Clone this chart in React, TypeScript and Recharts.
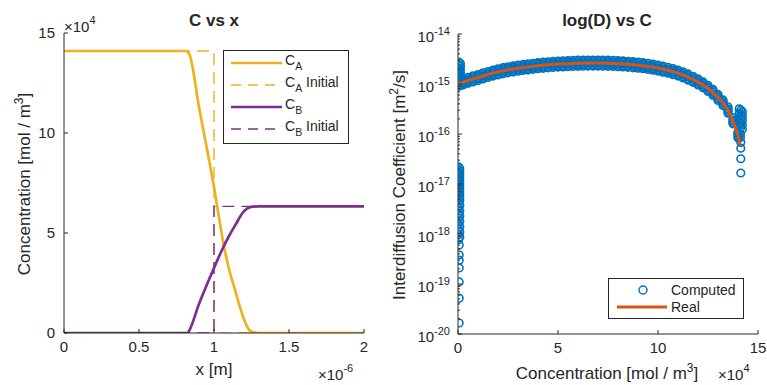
import React from "react";
import { ComposedChart, LineChart, Line, Scatter, XAxis, YAxis, Legend } from "recharts";

// ---------- left panel: C vs x  (x in 1e-6 m, C in 1e4 mol/m^3) ----------
const caX = [0, 0.81, 0.835, 0.9, 1.0, 1.07, 1.107, 1.14, 1.173, 1.207, 1.23, 1.26, 1.3, 2.0];
const caC = [14.1, 14.1, 13.95, 11.3, 7.3, 4.2, 3.0, 2.16, 1.3, 0.55, 0.2, 0.04, 0, 0];
const cbX = [0, 0.825, 0.835, 0.9, 1.0, 1.05, 1.1, 1.15, 1.19, 1.22, 1.25, 1.3, 2.0];
const cbC = [0, 0, 0.12, 1.45, 3.25, 4.1, 4.85, 5.5, 6.0, 6.22, 6.31, 6.33, 6.33];
const caInitX = [0, 1, 1, 2];
const caInitC = [14.1, 14.1, 0, 0];
const cbInitX = [0, 1, 1, 2];
const cbInitC = [0, 0, 6.33, 6.33];
const leftXTicks = [0, 0.5, 1, 1.5, 2];
const leftYTicks = [0, 5, 10, 15];

// ---------- right panel: log(D) vs C  (C in 1e4 mol/m^3, D in 1e-15 m^2/s) ----------
const D_UNIT = 1e-15;
const realConc = [0, 0.5, 1, 1.5, 2, 2.5, 3, 3.5, 4, 4.5, 5, 5.5, 6, 6.5, 7, 7.5, 8, 8.5, 9, 9.5, 10, 10.5, 11, 11.5, 12, 12.5, 13, 13.25, 13.5, 13.75, 14, 14.1];
const realD = [1.0, 1.18, 1.35, 1.55, 1.75, 1.92, 2.07, 2.2, 2.32, 2.42, 2.5, 2.55, 2.6, 2.62, 2.62, 2.6, 2.55, 2.48, 2.38, 2.25, 2.08, 1.88, 1.65, 1.38, 1.1, 0.82, 0.54, 0.42, 0.3, 0.18, 0.095, 0.06];

// computed points along the curve (five rows from above to below the curve)
const bandConc = [0.25, 0.5, 0.75, 1, 1.25, 1.5, 1.75, 2, 2.25, 2.5, 2.75, 3, 3.25, 3.5, 3.75, 4, 4.25, 4.5, 4.75, 5, 5.25, 5.5, 5.75, 6, 6.25, 6.5, 6.75, 7, 7.25, 7.5, 7.75, 8, 8.25, 8.5, 8.75, 9, 9.25, 9.5, 9.75, 10, 10.25, 10.5, 10.75, 11, 11.25, 11.5, 11.75, 12, 12.25, 12.5, 12.75, 13, 13.25, 13.5, 13.75, 14];
const bandHigh = [1.25, 1.36, 1.46, 1.55, 1.67, 1.78, 1.9, 2.01, 2.12, 2.21, 2.3, 2.38, 2.46, 2.53, 2.6, 2.67, 2.73, 2.78, 2.83, 2.88, 2.91, 2.93, 2.97, 2.99, 3.0, 3.01, 3.01, 3.01, 3.0, 2.99, 2.97, 2.93, 2.9, 2.85, 2.79, 2.74, 2.67, 2.59, 2.5, 2.39, 2.28, 2.16, 2.04, 1.9, 1.75, 1.59, 1.43, 1.27, 1.1, 0.94, 0.78, 0.62, 0.48, 0.35, 0.21, 0.11];
const bandUpper = [1.17, 1.27, 1.37, 1.45, 1.56, 1.67, 1.77, 1.88, 1.98, 2.06, 2.15, 2.23, 2.3, 2.37, 2.43, 2.49, 2.55, 2.6, 2.64, 2.69, 2.72, 2.74, 2.77, 2.8, 2.81, 2.82, 2.82, 2.82, 2.81, 2.8, 2.77, 2.74, 2.71, 2.67, 2.61, 2.56, 2.49, 2.42, 2.33, 2.24, 2.13, 2.02, 1.9, 1.77, 1.63, 1.48, 1.33, 1.18, 1.03, 0.88, 0.73, 0.58, 0.45, 0.32, 0.19, 0.102];
const bandMid = [1.09, 1.18, 1.27, 1.35, 1.45, 1.55, 1.65, 1.75, 1.84, 1.92, 2.0, 2.07, 2.14, 2.2, 2.26, 2.32, 2.37, 2.42, 2.46, 2.5, 2.53, 2.55, 2.58, 2.6, 2.61, 2.62, 2.62, 2.62, 2.61, 2.6, 2.58, 2.55, 2.52, 2.48, 2.43, 2.38, 2.32, 2.25, 2.17, 2.08, 1.98, 1.88, 1.77, 1.65, 1.52, 1.38, 1.24, 1.1, 0.96, 0.82, 0.68, 0.54, 0.42, 0.3, 0.18, 0.095];
const bandUnder = [1.01, 1.1, 1.18, 1.26, 1.35, 1.44, 1.53, 1.63, 1.71, 1.79, 1.86, 1.93, 1.99, 2.05, 2.1, 2.16, 2.2, 2.25, 2.29, 2.33, 2.35, 2.37, 2.4, 2.42, 2.43, 2.44, 2.44, 2.44, 2.43, 2.42, 2.4, 2.37, 2.34, 2.31, 2.26, 2.21, 2.16, 2.09, 2.02, 1.93, 1.84, 1.75, 1.65, 1.53, 1.41, 1.28, 1.15, 1.02, 0.89, 0.76, 0.63, 0.5, 0.39, 0.28, 0.167, 0.088];
const bandLow = [0.95, 1.03, 1.1, 1.17, 1.26, 1.35, 1.44, 1.52, 1.6, 1.67, 1.74, 1.8, 1.86, 1.91, 1.97, 2.02, 2.06, 2.11, 2.14, 2.18, 2.2, 2.22, 2.24, 2.26, 2.27, 2.28, 2.28, 2.28, 2.27, 2.26, 2.24, 2.22, 2.19, 2.16, 2.11, 2.07, 2.02, 1.96, 1.89, 1.81, 1.72, 1.64, 1.54, 1.44, 1.32, 1.2, 1.08, 0.96, 0.84, 0.71, 0.59, 0.47, 0.37, 0.26, 0.16, 0.083];

// computed points stacked at C ~ 0
const zeroHiConc = [0.04, 0.12, 0.04, 0.12, 0.04, 0.12, 0.04, 0.12, 0.04, 0.12, 0.04, 0.12, 0.04, 0.12, 0.04, 0.12, 0.04];
const zeroHiD = [2.75, 2.56, 2.39, 2.23, 2.08, 1.94, 1.81, 1.69, 1.57, 1.47, 1.37, 1.28, 1.19, 1.11, 1.04, 0.97, 0.9];
const zeroLoConc = [0.03, 0.09, 0.03, 0.09, 0.03, 0.09, 0.03, 0.09, 0.03, 0.09, 0.03, 0.09, 0.03, 0.09, 0.03, 0.09, 0.03, 0.09, 0.03, 0.09, 0.03, 0.09, 0.03, 0.09, 0.03, 0.09, 0.03, 0.09, 0.03, 0.09, 0.03, 0.09, 0.03, 0.09, 0.03, 0.09, 0.03, 0.06, 0.06, 0.06, 0.06, 0.06, 0.06, 0.06];
const zeroLoD = [0.022, 0.0205, 0.019, 0.0177, 0.0165, 0.0153, 0.0142, 0.0132, 0.0123, 0.0114, 0.0106, 0.0099, 0.0092, 0.0086, 0.008, 0.0074, 0.0069, 0.0064, 0.006, 0.0055, 0.0051, 0.0047, 0.0042, 0.0037, 0.0033, 0.0029, 0.0026, 0.0023, 0.0021, 0.0018, 0.0016, 0.0014, 0.00125, 0.0011, 0.00098, 0.00087, 0.00077, 0.0006, 0.00038, 0.0003, 0.00021, 0.00011, 0.000052, 0.0000166];

// computed points stacked at C ~ 14.1
const tailConc = [14.06, 14.14, 14.22, 14.06, 14.14, 14.22, 14.06, 14.14, 14.22, 14.06, 14.14, 14.22, 14.06, 14.14, 14.22, 14.12, 14.12, 14.14, 14.14, 14.14, 14.14];
const tailD = [0.32, 0.3, 0.28, 0.26, 0.245, 0.23, 0.215, 0.2, 0.19, 0.175, 0.165, 0.155, 0.145, 0.135, 0.125, 0.1, 0.085, 0.068, 0.052, 0.032, 0.0166];

const rightXTicks = [0, 5, 10, 15];
const decadeExps = [-20, -19, -18, -17, -16, -15, -14];
const minorMantissas = [2, 3, 4, 5, 6, 7, 8, 9];

// ---------- style ----------
const INK = "#262626";
const FONT = "'Liberation Sans', Arial, Helvetica, sans-serif";
const YELLOW = "#EDB120";
const PURPLE = "#7E2F8E";
const BLUE = "#0072BD";
const RED = "#D95319";

const logTicks = decadeExps.flatMap((e) => [
  Number(`1e${e}`),
  ...(e < -14 ? minorMantissas.map((m) => Number(`${m}e${e}`)) : []),
]);
const isDecade = (v: number) => Math.abs(Math.log10(v) - Math.round(Math.log10(v))) < 1e-6;

const pts = (xs: number[], ys: number[]) => xs.map((x, i) => ({ x, c: ys[i] }));
const caData = pts(caX, caC);
const cbData = pts(cbX, cbC);
const caInitData = pts(caInitX, caInitC);
const cbInitData = pts(cbInitX, cbInitC);

const dpts = (cs: number[], ds: number[]) => cs.map((c, i) => ({ c, d: ds[i] * D_UNIT }));
const realData = dpts(realConc, realD);
const computedData = [
  ...dpts(bandConc, bandHigh),
  ...dpts(bandConc, bandUpper),
  ...dpts(bandConc, bandMid),
  ...dpts(bandConc, bandUnder),
  ...dpts(bandConc, bandLow),
  ...dpts(zeroHiConc, zeroHiD),
  ...dpts(zeroLoConc, zeroLoD),
  ...dpts(tailConc, tailD),
];

type Side = "left" | "right" | "top" | "bottom";
interface TickProps {
  x?: number;
  y?: number;
  payload?: { value: number };
  side: Side;
  log?: boolean;
  showLabel?: boolean;
}

function AxisTick({ x = 0, y = 0, payload, side, log, showLabel }: TickProps) {
  const v = payload ? payload.value : 0;
  const major = !log || isDecade(v);
  const len = major ? 4 : 2;
  const dx = side === "left" ? len : side === "right" ? -len : 0;
  const dy = side === "bottom" ? -len : side === "top" ? len : 0;
  let label: React.ReactNode = null;
  if (showLabel && major) {
    if (side === "left" && log) {
      label = (
        <text x={x - 8} y={y + 8} textAnchor="end" fontSize={15} fill={INK} fontFamily={FONT}>
          10<tspan dy={-7} fontSize={11}>{Math.round(Math.log10(v))}</tspan>
        </text>
      );
    } else if (side === "left") {
      label = (
        <text x={x - 9} y={y + 5} textAnchor="end" fontSize={15} fill={INK} fontFamily={FONT}>
          {v}
        </text>
      );
    } else if (side === "bottom") {
      label = (
        <text x={x} y={y + 19} textAnchor="middle" fontSize={15} fill={INK} fontFamily={FONT}>
          {v}
        </text>
      );
    }
  }
  return (
    <g>
      <line x1={x} y1={y} x2={x + dx} y2={y + dy} stroke={INK} strokeWidth={1} />
      {label}
    </g>
  );
}

const axisCommon = {
  type: "number" as const,
  axisLine: { stroke: INK, strokeWidth: 1 },
  tickLine: false,
  tickSize: 0,
  tickMargin: 0,
  interval: 0 as const,
  allowDataOverflow: true,
};

function LeftLegend() {
  const rows = [
    { y: 13, color: YELLOW, dash: undefined, w: 2.7, sub: "A", extra: "" },
    { y: 35, color: YELLOW, dash: "10 7", w: 1.4, sub: "A", extra: " Initial" },
    { y: 57, color: PURPLE, dash: undefined, w: 2.7, sub: "B", extra: "" },
    { y: 79, color: PURPLE, dash: "10 7", w: 1.4, sub: "B", extra: " Initial" },
  ];
  return (
    <svg width={126} height={94} style={{ display: "block" }}>
      <rect x={0.5} y={0.5} width={125} height={93} fill="#fff" stroke={INK} strokeWidth={1} />
      {rows.map((r, i) => (
        <g key={i}>
          <line x1={8} x2={59} y1={r.y} y2={r.y} stroke={r.color} strokeWidth={r.w} strokeDasharray={r.dash} />
          <text x={62} y={r.y + 2} fontSize={14} fill={INK} fontFamily={FONT}>
            C<tspan dy={5} fontSize={10.5}>{r.sub}</tspan>
            {r.extra ? <tspan dy={-5} fontSize={14}>{r.extra}</tspan> : null}
          </text>
        </g>
      ))}
    </svg>
  );
}

function RightLegend() {
  return (
    <svg width={136} height={41} style={{ display: "block" }}>
      <rect x={0.5} y={0.5} width={135} height={40} fill="#fff" stroke={INK} strokeWidth={1} />
      <circle cx={35} cy={12} r={4} fill="none" stroke={BLUE} strokeWidth={1.5} />
      <text x={63} y={17} fontSize={14} fill={INK} fontFamily={FONT}>Computed</text>
      <line x1={9} x2={59} y1={29} y2={29} stroke={RED} strokeWidth={3} />
      <text x={63} y={34} fontSize={14} fill={INK} fontFamily={FONT}>Real</text>
    </svg>
  );
}

const ring = (p: any) => (
  <circle cx={p.cx} cy={p.cy} r={3.8} fill="none" stroke={BLUE} strokeWidth={1.6} />
);
const noMarker = () => <g />;

function ConcentrationProfile() {
  return (
    <LineChart width={383} height={385} margin={{ top: 33, right: 19, bottom: 0, left: 0 }}>
      <XAxis {...axisCommon} xAxisId="b" dataKey="x" domain={[0, 2]} ticks={leftXTicks} height={52}
        tick={(p: any) => <AxisTick {...p} side="bottom" showLabel />} />
      <XAxis {...axisCommon} xAxisId="t" orientation="top" dataKey="x" domain={[0, 2]} ticks={leftXTicks} height={0}
        tick={(p: any) => <AxisTick {...p} side="top" />} />
      <YAxis {...axisCommon} yAxisId="l" domain={[0, 15]} ticks={leftYTicks} width={64}
        tick={(p: any) => <AxisTick {...p} side="left" showLabel />} />
      <YAxis {...axisCommon} yAxisId="r" orientation="right" domain={[0, 15]} ticks={leftYTicks} width={0}
        tick={(p: any) => <AxisTick {...p} side="right" />} />
      <Line xAxisId="b" yAxisId="l" data={caData} dataKey="c" type="monotone" stroke={YELLOW} strokeWidth={2.7}
        dot={false} activeDot={false} isAnimationActive={false} />
      <Line xAxisId="b" yAxisId="l" data={caInitData} dataKey="c" type="linear" stroke={YELLOW} strokeWidth={1.4}
        strokeDasharray="12 7" dot={false} activeDot={false} isAnimationActive={false} />
      <Line xAxisId="b" yAxisId="l" data={cbData} dataKey="c" type="monotone" stroke={PURPLE} strokeWidth={2.7}
        dot={false} activeDot={false} isAnimationActive={false} />
      <Line xAxisId="b" yAxisId="l" data={cbInitData} dataKey="c" type="linear" stroke={PURPLE} strokeWidth={1.4}
        strokeDasharray="12 7" dot={false} activeDot={false} isAnimationActive={false} />
      <Legend layout="vertical" align="center" verticalAlign="middle" content={() => <LeftLegend />}
        wrapperStyle={{ left: 223, top: 50, width: 126, height: 94, margin: 0, padding: 0, lineHeight: 0 }} />
      <text x={214} y={26} textAnchor="middle" fontSize={17} fontWeight="bold" fill={INK} fontFamily={FONT}>C vs x</text>
      <text x={64} y={32} fontSize={15} fill={INK} fontFamily={FONT}>
        ×10<tspan dy={-8} fontSize={11}>4</tspan>
      </text>
      <text x={30} y={184} transform="rotate(-90 30 184)" textAnchor="middle" fontSize={17} fill={INK} fontFamily={FONT}>
        Concentration [mol / m<tspan dy={-7} fontSize={12}>3</tspan><tspan dy={7}>]</tspan>
      </text>
      <text x={214} y={375} textAnchor="middle" fontSize={17} fill={INK} fontFamily={FONT}>x [m]</text>
      <text x={318} y={380} fontSize={15} fill={INK} fontFamily={FONT}>
        ×10<tspan dy={-8} fontSize={11}>-6</tspan>
      </text>
    </LineChart>
  );
}

function DiffusivityPlot() {
  return (
    <ComposedChart width={384} height={385} margin={{ top: 34, right: 9, bottom: 0, left: 0 }}>
      <XAxis {...axisCommon} xAxisId="b" dataKey="c" domain={[0, 15]} ticks={rightXTicks} height={51}
        tick={(p: any) => <AxisTick {...p} side="bottom" showLabel />} />
      <XAxis {...axisCommon} xAxisId="t" orientation="top" dataKey="c" domain={[0, 15]} ticks={rightXTicks} height={0}
        tick={(p: any) => <AxisTick {...p} side="top" />} />
      <YAxis {...axisCommon} yAxisId="l" dataKey="d" scale="log" domain={[1e-20, 1e-14]} ticks={logTicks} width={75}
        tick={(p: any) => <AxisTick {...p} side="left" log showLabel />} />
      <YAxis {...axisCommon} yAxisId="r" orientation="right" dataKey="d" scale="log" domain={[1e-20, 1e-14]} ticks={logTicks} width={0}
        tick={(p: any) => <AxisTick {...p} side="right" log />} />
      <Scatter xAxisId="b" yAxisId="l" data={computedData} dataKey="d" shape={ring} isAnimationActive={false} />
      <Scatter xAxisId="b" yAxisId="l" data={realData} dataKey="d" shape={noMarker} line={{ stroke: RED, strokeWidth: 3 }}
        lineType="joint" isAnimationActive={false} />
      <Legend layout="vertical" align="center" verticalAlign="middle" content={() => <RightLegend />}
        wrapperStyle={{ left: 225, top: 278, width: 136, height: 41, margin: 0, padding: 0, lineHeight: 0 }} />
      <text x={224} y={26} textAnchor="middle" fontSize={17} fontWeight="bold" fill={INK} fontFamily={FONT}>log(D) vs C</text>
      <text x={22} y={185} transform="rotate(-90 22 185)" textAnchor="middle" fontSize={17} fill={INK} fontFamily={FONT}>
        Interdiffusion Coefficient [m<tspan dy={-7} fontSize={12}>2</tspan><tspan dy={7}>/s]</tspan>
      </text>
      <text x={224} y={379} textAnchor="middle" fontSize={17} fill={INK} fontFamily={FONT}>
        Concentration [mol / m<tspan dy={-7} fontSize={12}>3</tspan><tspan dy={7}>]</tspan>
      </text>
      <text x={335} y={380} fontSize={15} fill={INK} fontFamily={FONT}>
        ×10<tspan dy={-8} fontSize={11}>4</tspan>
      </text>
    </ComposedChart>
  );
}

export default function App() {
  return (
    <div style={{ position: "absolute", left: 0, top: 0, width: 767, height: 385, background: "#fff" }}>
      <div style={{ position: "absolute", left: 0, top: 0 }}>
        <ConcentrationProfile />
      </div>
      <div style={{ position: "absolute", left: 383, top: 0 }}>
        <DiffusivityPlot />
      </div>
    </div>
  );
}
